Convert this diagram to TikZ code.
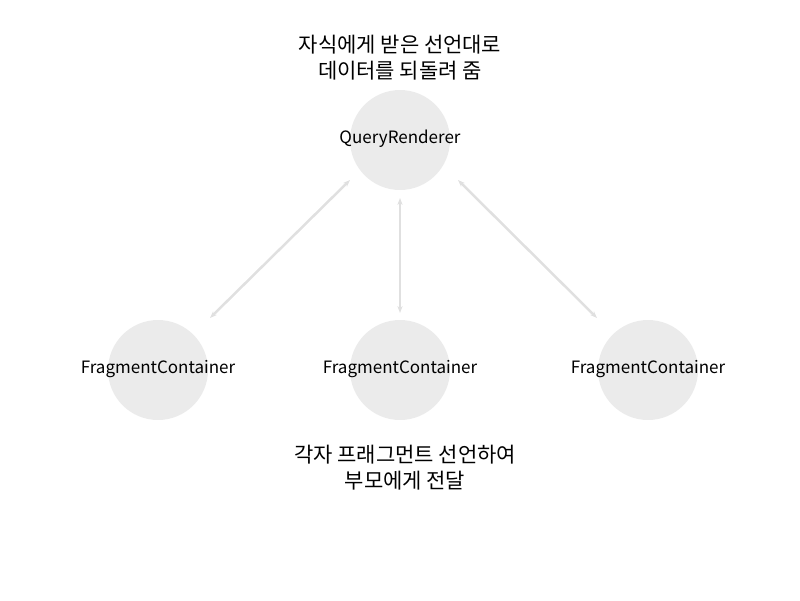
\documentclass[tikz,border=0pt]{standalone}
\usepackage{fontspec}
\setmainfont{Noto Sans CJK KR}
\usetikzlibrary{arrows.meta}
\begin{document}
\begin{tikzpicture}[x=1pt,y=-1pt,
  circ/.style={circle,fill=black!8,minimum size=100pt,inner sep=0pt},
  lbl/.style={font=\fontsize{17}{20}\selectfont},
  big/.style={font=\fontsize{21}{26}\selectfont,align=center},
  link/.style={draw=black!12,line width=2.5pt,{Stealth[length=7pt]}-{Stealth[length=7pt]}}]
\useasboundingbox (0,0) rectangle (800,600);
\node[circ] (q) at (400,140) {};
\node[lbl] at (400,139) {QueryRenderer};
\node[circ] (f1) at (158,370) {};
\node[circ] (f2) at (400,370) {};
\node[circ] (f3) at (648,370) {};
\node[lbl] at (158,369) {FragmentContainer};
\node[lbl] at (400,369) {FragmentContainer};
\node[lbl] at (648,369) {FragmentContainer};
\node[big] (t) at (400,58) {자식에게 받은 선언대로\\데이터를 되돌려 줌};
\node[big] (b) at (405,468) {각자 프래그먼트 선언하여\\부모에게 전달};
\coordinate (a1) at (350,180); \coordinate (a2) at (210,318);
\coordinate (b1) at (400,198); \coordinate (b2) at (400,313);
\coordinate (c1) at (458,180); \coordinate (c2) at (597,318);
\draw[link] (a1) -- (a2);
\draw[link] (b1) -- (b2);
\draw[link] (c1) -- (c2);
\end{tikzpicture}
\end{document}
